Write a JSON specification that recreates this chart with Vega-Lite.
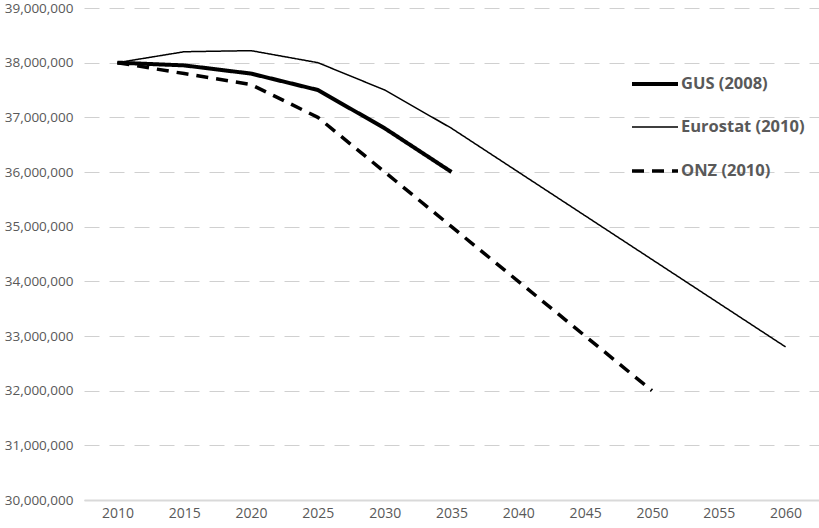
{
  "$schema": "https://vega.github.io/schema/vega-lite/v6.json",
  "width": 735,
  "height": 492,
  "autosize": {"type": "none"},
  "padding": {"left": 84, "top": 8, "right": 0, "bottom": 28},
  "background": "white",
  "config": {
    "view": {"stroke": null},
    "font": "Open Sans",
    "legend": {
      "title": null,
      "orient": "none",
      "legendX": 546,
      "legendY": 51,
      "symbolType": "stroke",
      "symbolSize": 2116,
      "symbolStrokeColor": "black",
      "labelFontSize": 16.5,
      "labelFontWeight": "bold",
      "labelColor": "#595959",
      "labelOffset": 1,
      "labelLimit": 300,
      "rowPadding": 10
    }
  },
  "data": {
    "values": [
      {"year": "2010", "series": "GUS (2008)", "pop": 38000000},
      {"year": "2015", "series": "GUS (2008)", "pop": 37950000},
      {"year": "2020", "series": "GUS (2008)", "pop": 37800000},
      {"year": "2025", "series": "GUS (2008)", "pop": 37500000},
      {"year": "2030", "series": "GUS (2008)", "pop": 36800000},
      {"year": "2035", "series": "GUS (2008)", "pop": 36000000},
      {"year": "2010", "series": "Eurostat (2010)", "pop": 38000000},
      {"year": "2015", "series": "Eurostat (2010)", "pop": 38200000},
      {"year": "2020", "series": "Eurostat (2010)", "pop": 38220000},
      {"year": "2025", "series": "Eurostat (2010)", "pop": 38000000},
      {"year": "2030", "series": "Eurostat (2010)", "pop": 37500000},
      {"year": "2035", "series": "Eurostat (2010)", "pop": 36800000},
      {"year": "2040", "series": "Eurostat (2010)", "pop": 36000000},
      {"year": "2045", "series": "Eurostat (2010)", "pop": 35200000},
      {"year": "2050", "series": "Eurostat (2010)", "pop": 34400000},
      {"year": "2055", "series": "Eurostat (2010)", "pop": 33600000},
      {"year": "2060", "series": "Eurostat (2010)", "pop": 32800000},
      {"year": "2010", "series": "ONZ (2010)", "pop": 38000000},
      {"year": "2015", "series": "ONZ (2010)", "pop": 37800000},
      {"year": "2020", "series": "ONZ (2010)", "pop": 37600000},
      {"year": "2025", "series": "ONZ (2010)", "pop": 37000000},
      {"year": "2030", "series": "ONZ (2010)", "pop": 36000000},
      {"year": "2035", "series": "ONZ (2010)", "pop": 35000000},
      {"year": "2040", "series": "ONZ (2010)", "pop": 34000000},
      {"year": "2045", "series": "ONZ (2010)", "pop": 33000000},
      {"year": "2050", "series": "ONZ (2010)", "pop": 32000000}
    ]
  },
  "mark": {"type": "line", "color": "black", "strokeCap": "butt", "strokeJoin": "round"},
  "encoding": {
    "x": {
      "field": "year",
      "type": "ordinal",
      "scale": {"type": "point", "padding": 0.5, "domain": ["2010","2015","2020","2025","2030","2035","2040","2045","2050","2055","2060"]},
      "axis": {
        "title": null,
        "labelAngle": 0,
        "labelFontSize": 14,
        "labelColor": "#595959",
        "labelPadding": 6,
        "ticks": false,
        "domainColor": "#d9d9d9",
        "domainWidth": 2,
        "grid": false,
        "zindex": 1
      }
    },
    "y": {
      "field": "pop",
      "type": "quantitative",
      "scale": {"domain": [30000000, 39000000], "nice": false, "zero": false},
      "axis": {
        "title": null,
        "values": [30000000, 31000000, 32000000, 33000000, 34000000, 35000000, 36000000, 37000000, 38000000, 39000000],
        "format": ",d",
        "labelFontSize": 13.5,
        "labelColor": "#595959",
        "labelPadding": 11,
        "labelBound": false,
        "ticks": false,
        "domain": false,
        "grid": true,
        "gridColor": "#d0d0d0",
        "gridDash": [15, 10],
        "gridWidth": 1
      }
    },
    "strokeWidth": {
      "field": "series",
      "type": "nominal",
      "scale": {"type": "ordinal", "domain": ["GUS (2008)", "Eurostat (2010)", "ONZ (2010)"], "range": [4, 1.5, 3.5]}
    },
    "strokeDash": {
      "field": "series",
      "type": "nominal",
      "scale": {"domain": ["GUS (2008)", "Eurostat (2010)", "ONZ (2010)"], "range": [[1, 0], [1, 0], [12, 8]]}
    }
  }
}
